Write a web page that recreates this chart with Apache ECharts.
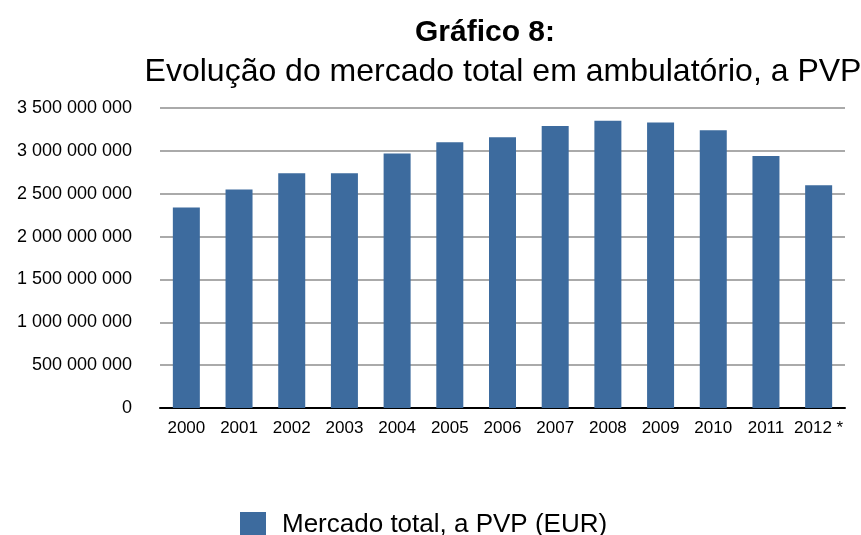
<!DOCTYPE html>
<html>
<head>
<meta charset="utf-8">
<script src="https://cdn.jsdelivr.net/npm/echarts@6/dist/echarts.min.js"></script>
<style>
  html, body { margin: 0; padding: 0; background: #fff; }
</style>
</head>
<body>
<div id="myChart" style="width:861px;height:535px;"></div>
<script>
// dados
var anos = ["2000", "2001", "2002", "2003", "2004", "2005", "2006", "2007", "2008", "2009", "2010", "2011", "2012 *"];
var mercadoTotal = [2340000000, 2550000000, 2740000000, 2740000000, 2970000000, 3100000000, 3160000000,
                    3290000000, 3350000000, 3330000000, 3240000000, 2940000000, 2600000000];
var nomeSerie = "Mercado total, a PVP (EUR)";

// formata 3500000000 -> "3 500 000 000"
function formatar(v) {
    return String(v).replace(/\B(?=(\d{3})+(?!\d))/g, " ");
}

var chart = echarts.init(document.getElementById("myChart"));
chart.setOption({
    animation: false,
    textStyle: { fontFamily: "Liberation Sans, Arial, sans-serif" },
    title: [
        {
            text: "Gráfico 8:",
            left: 480, top: 13, textAlign: "center",
            textStyle: { fontSize: 30, fontWeight: "bold", color: "#000" }
        },
        {
            text: "Evolução do mercado total em ambulatório, a PVP",
            left: 498, top: 51, textAlign: "center",
            textStyle: { fontSize: 32, fontWeight: "normal", color: "#000" }
        }
    ],
    legend: {
        data: [nomeSerie],
        top: 512,
        left: 240,
        padding: 0,
        itemWidth: 26,
        itemHeight: 26,
        icon: "rect",
        textStyle: { fontSize: 26, color: "#000", padding: [0, 0, 0, 11] }
    },
    grid: { left: 160, right: 16, top: 108, bottom: 127 },
    xAxis: {
        type: "category",
        data: anos,
        axisLine: { lineStyle: { color: "#000", width: 2 } },
        axisTick: { show: false },
        axisLabel: { fontSize: 17, color: "#000", margin: 12, interval: 0 }
    },
    yAxis: {
        type: "value",
        min: 0, max: 3500000000, interval: 500000000,
        axisLine: { show: false },
        axisTick: { show: false },
        axisLabel: { fontSize: 18, color: "#000", margin: 28, formatter: formatar },
        splitLine: { lineStyle: { color: "#aaaaaa", width: 2 } }
    },
    series: [
        {
            name: nomeSerie,
            type: "bar",
            data: mercadoTotal,
            barWidth: 27,
            itemStyle: { color: "#3d6b9e" }
        }
    ]
});
</script>
</body>
</html>
